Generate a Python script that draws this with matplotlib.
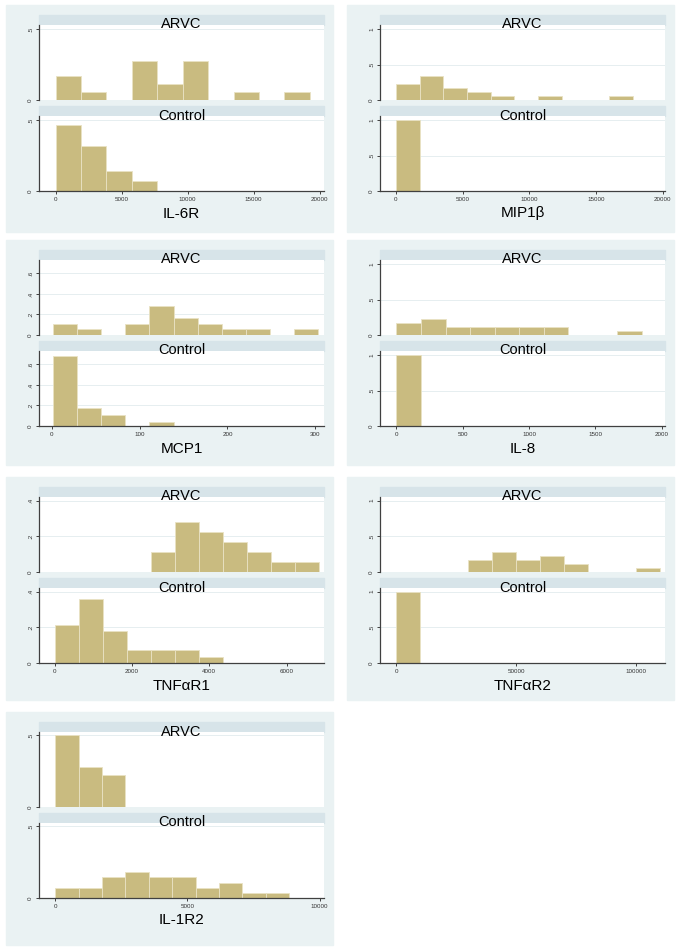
import numpy as np
import matplotlib
matplotlib.use('Agg')
import matplotlib.pyplot as plt
from matplotlib.patches import Rectangle
from matplotlib.ticker import FuncFormatter

plt.rcParams['font.family'] = ['Liberation Sans', 'DejaVu Sans']

# marker names (x axis titles)
markers = ['IL-6R', 'MIP1\u03b2', 'MCP1', 'IL-8', 'TNF\u03b1R1', 'TNF\u03b1R2', 'IL-1R2']
groups = ['ARVC', 'Control']

# histogram bins: first edge and bin width for each marker
bin_start = [0, 0, 1, 0, 0, 0, 0]
bin_width = [1925, 1775, 27.5, 185, 623, 10000, 884]

# fraction of subjects in each bin
arvc_frac = [
    [.167, .056, 0, .278, .111, .278, 0, .056, 0, .056],
    [.222, .333, .167, .111, .056, 0, .056, 0, 0, .056],
    [.111, .056, 0, .111, .278, .167, .111, .056, .056, 0, .056],
    [.167, .222, .111, .111, .111, .111, .111, 0, 0, .056],
    [0, 0, 0, 0, .111, .278, .222, .167, .111, .056, .056],
    [0, 0, 0, .167, .278, .167, .222, .111, 0, 0, .056],
    [.5, .278, .222],
]
control_frac = [
    [.464, .321, .143, .071],
    [1.0],
    [.679, .179, .107, 0, .036],
    [1.0],
    [.214, .357, .179, .071, .071, .071, .036],
    [1.0],
    [.071, .071, .143, .179, .143, .143, .071, .107, .036, .036],
]

# axis ticks
x_ticks = [
    [0, 5000, 10000, 15000, 20000],
    [0, 5000, 10000, 15000, 20000],
    [0, 100, 200, 300],
    [0, 500, 1000, 1500, 2000],
    [0, 2000, 4000, 6000],
    [0, 50000, 100000],
    [0, 5000, 10000],
]
y_ticks = [
    [0, .5],
    [0, .5, 1],
    [0, .2, .4, .6],
    [0, .5, 1],
    [0, .2, .4],
    [0, .5, 1],
    [0, .5],
]

# axis ranges
x_lims = [(-1260, 20325), (-1185, 20170), (-14.8, 310), (-124, 2025),
          (-404, 6970), (-6855, 112060), (-616, 10164)]
y_tops = [.53, 1.06, .73, 1.06, .42, 1.05, .52]

# panel placement in pixels: left, top, height
panel_pos = [(6, 5, 227), (347, 5, 227), (6, 240, 225), (347, 240, 225),
             (6, 477, 223), (347, 477, 223), (6, 712, 233)]

W, H = 678, 950
bg_col = '#EAF2F3'
strip_col = '#D7E4E9'
bar_col = '#C9BB80'
grid_col = '#E6EEF0'
axis_col = '#404040'


def frac(x, y, w, h):
    return [x / W, 1 - (y + h) / H, w / W, h / H]


def stata_fmt(v, pos):
    s = '%g' % v
    if s.startswith('0.'):
        s = s[1:]
    return s


fig = plt.figure(figsize=(W / 100, H / 100), dpi=100)

for i, name in enumerate(markers):
    x0, y0, bh = panel_pos[i]
    fig.add_artist(Rectangle(frac(x0, y0, 327, bh)[:2], 327 / W, bh / H,
                             transform=fig.transFigure, color=bg_col, zorder=-3))
    left, right = x0 + 33, x0 + 318
    pw = right - left

    for j, (grp, fr) in enumerate(zip(groups, [arvc_frac[i], control_frac[i]])):
        top = y0 + 10 + j * 91
        # strip
        fig.add_artist(Rectangle(frac(left, top, pw, 10)[:2], pw / W, 10 / H,
                                 transform=fig.transFigure, color=strip_col, zorder=-2))
        fig.text((left + pw / 2) / W, 1 - (top + 9.5) / H, grp, ha='center', va='center',
                 fontsize=10.5, zorder=5)

        ax = fig.add_axes(frac(left, top + 10, pw, 75))
        ax.set_facecolor('white')
        fr = np.array(fr)
        edges = bin_start[i] + bin_width[i] * np.arange(len(fr))
        keep = fr > 0
        ax.bar(edges[keep], fr[keep], width=bin_width[i], align='edge',
               color=bar_col, edgecolor='#E9E2C4', linewidth=0.6, zorder=2)
        ax.set_xlim(*x_lims[i])
        ax.set_ylim(0, y_tops[i])
        ax.set_yticks(y_ticks[i])
        ax.yaxis.set_major_formatter(FuncFormatter(stata_fmt))
        ax.yaxis.grid(True, color=grid_col, linewidth=0.7)
        ax.set_axisbelow(True)
        for s in ['top', 'right']:
            ax.spines[s].set_visible(False)
        ax.spines['left'].set_color(axis_col)
        ax.spines['left'].set_linewidth(0.9)
        ax.tick_params(axis='y', length=2.2, width=0.7, color=axis_col, pad=2,
                       labelsize=4.5, labelrotation=90, labelcolor='#333333')
        for lab in ax.get_yticklabels():
            lab.set_va('center')
        if j == 0:
            ax.spines['bottom'].set_visible(False)
            ax.set_xticks([])
        else:
            ax.spines['bottom'].set_color(axis_col)
            ax.spines['bottom'].set_linewidth(0.9)
            ax.set_xticks(x_ticks[i])
            ax.tick_params(axis='x', length=2.2, width=0.7, color=axis_col, pad=2,
                           labelsize=4.5, labelcolor='#333333')

    fig.text((left + pw / 2) / W, 1 - (y0 + 208.5) / H, name, ha='center', va='center',
             fontsize=11)

fig.savefig('out.png', dpi=100)
